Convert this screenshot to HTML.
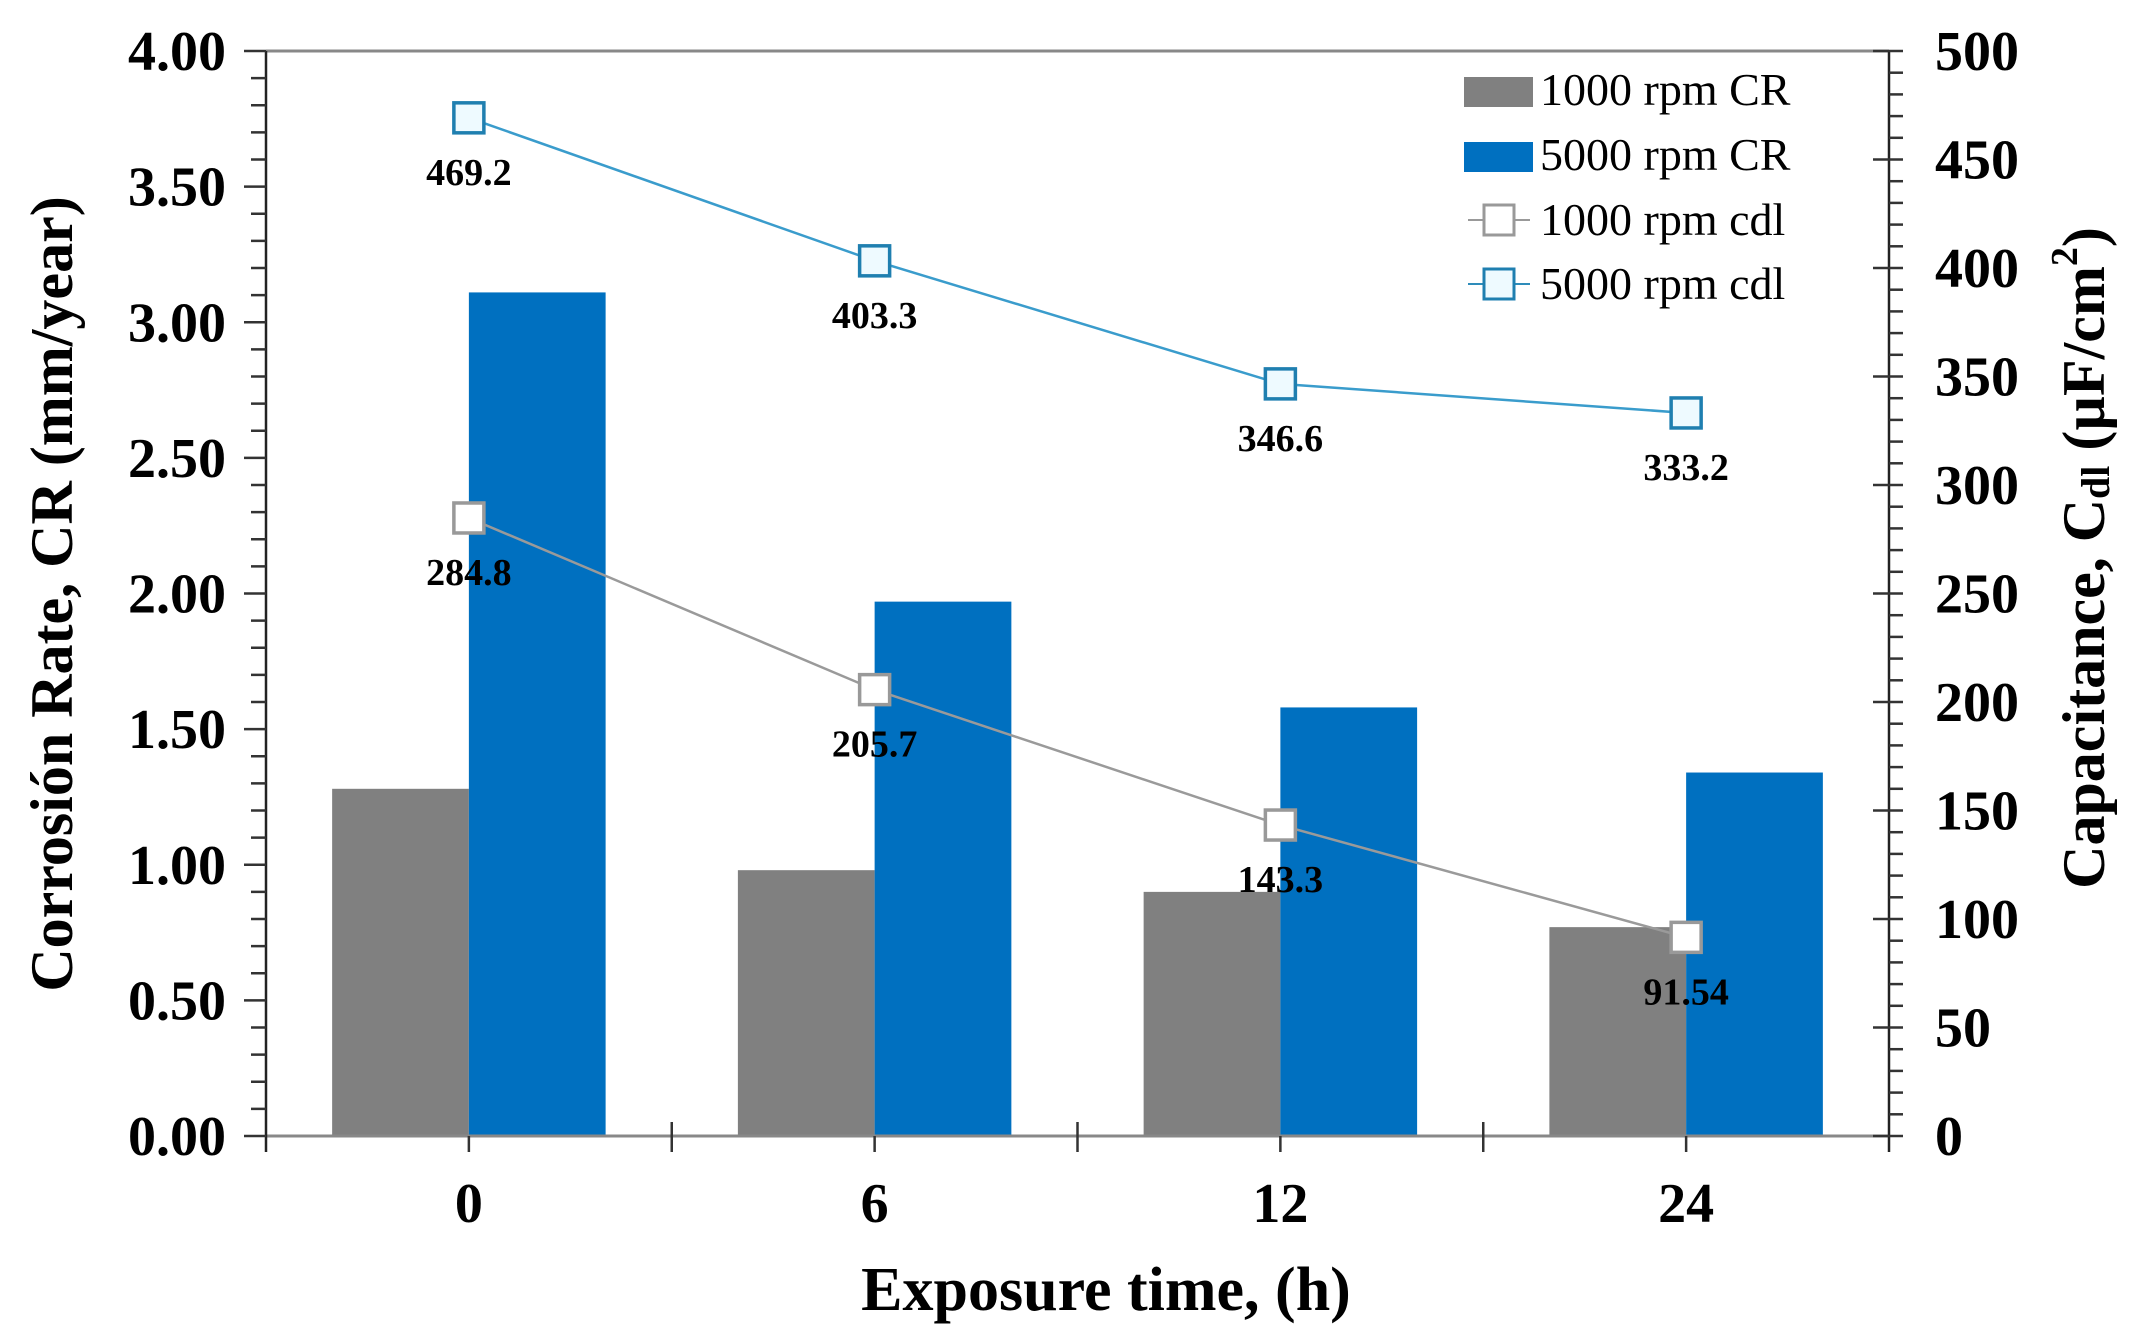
<!DOCTYPE html>
<html><head><meta charset="utf-8">
<style>
html,body{margin:0;padding:0;background:#fff;}
svg{display:block;font-family:"Liberation Serif",serif;}
</style></head>
<body>
<svg id="chart" width="2142" height="1331" viewBox="0 0 2142 1331" xmlns="http://www.w3.org/2000/svg">
<g id="grid"></g>
<g id="bars"></g>
<g id="axes"></g>
<g id="lines"></g>
<g id="labels"></g>
<g id="legend">
  <rect x="1464" y="77" width="69" height="30" fill="#808080"/>
  <text x="1540" y="105" font-size="46">1000 rpm CR</text>
  <rect x="1464" y="142" width="69" height="30" fill="#0070c0"/>
  <text x="1540" y="170" font-size="46">5000 rpm CR</text>
  <line x1="1468" y1="220" x2="1530" y2="220" stroke="#999" stroke-width="2"/>
  <rect x="1484" y="205" width="30" height="30" fill="#fff" stroke="#999" stroke-width="3"/>
  <text x="1540" y="235" font-size="46">1000 rpm cdl</text>
  <line x1="1468" y1="284" x2="1530" y2="284" stroke="#2e8cba" stroke-width="2"/>
  <rect x="1484" y="269" width="30" height="30" fill="#eefaff" stroke="#1f7fb0" stroke-width="3"/>
  <text x="1540" y="299" font-size="46">5000 rpm cdl</text>
</g>
<text x="1106" y="1310" font-size="62" font-weight="bold" text-anchor="middle">Exposure time, (h)</text>
<text transform="translate(72,594) rotate(-90)" font-size="60" font-weight="bold" text-anchor="middle">Corrosión Rate, CR (mm/year)</text>
<text transform="translate(2090,558) rotate(-90)" font-size="60" font-weight="bold" text-anchor="middle" dominant-baseline="middle">Capacitance, C<tspan font-size="40" dy="10">dl</tspan><tspan dy="-10"> (µF/cm</tspan><tspan font-size="38" dy="-22">2</tspan><tspan dy="22">)</tspan></text>
</svg>
<script>
const categories = ["0","6","12","24"];
const cr1000 = [1.28, 0.98, 0.90, 0.77];
const cr5000 = [3.11, 1.97, 1.58, 1.34];
const cdl1000 = [284.8, 205.7, 143.3, 91.54];
const cdl5000 = [469.2, 403.3, 346.6, 333.2];
const cdl1000Labels = ["284.8","205.7","143.3","91.54"];
const cdl5000Labels = ["469.2","403.3","346.6","333.2"];
const leftTicks = ["0.00","0.50","1.00","1.50","2.00","2.50","3.00","3.50","4.00"];
const rightTicks = ["0","50","100","150","200","250","300","350","400","450","500"];

const NS = "http://www.w3.org/2000/svg";
const L = 266, R = 1889, T = 51, B = 1136;
const catW = (R - L) / categories.length;
const xC = i => L + catW * (i + 0.5);
const yL = v => B - (v / 4) * (B - T);
const yR = v => B - (v / 500) * (B - T);
const barW = catW * 0.337;

function mk(tag, attrs, parent) {
  const e = document.createElementNS(NS, tag);
  for (const k in attrs) e.setAttribute(k, attrs[k]);
  document.getElementById(parent).appendChild(e);
  return e;
}

// bars
categories.forEach((c, i) => {
  let b = mk("rect", {x: xC(i) - barW, y: yL(cr1000[i]), width: barW, height: B - yL(cr1000[i]), fill: "#808080"}, "bars");
  
  
  let b2 = mk("rect", {x: xC(i), y: yL(cr5000[i]), width: barW, height: B - yL(cr5000[i]), fill: "#0070c0"}, "bars");
  
  
});

// axes frame
mk("line", {x1: L, y1: T, x2: R, y2: T, stroke: "#888", "stroke-width": 3}, "axes");
mk("line", {x1: L, y1: B, x2: R, y2: B, stroke: "#888", "stroke-width": 3}, "axes");
mk("line", {x1: L, y1: T, x2: L, y2: B + 16, stroke: "#222", "stroke-width": 2.5}, "axes");
mk("line", {x1: R, y1: T, x2: R, y2: B + 16, stroke: "#222", "stroke-width": 2.5}, "axes");

// left ticks
for (let k = 0; k <= 40; k++) {
  const y = B - k / 40 * (B - T);
  const major = k % 5 === 0;
  mk("line", {x1: major ? L - 22 : L - 15, y1: y, x2: L, y2: y, stroke: "#333", "stroke-width": 2.5}, "axes");
}
leftTicks.forEach((t, i) => {
  const e = mk("text", {x: 226, y: yL(i * 0.5) + 19, "font-size": 56, "font-weight": "bold", "text-anchor": "end"}, "axes");
  e.textContent = t;
  
  
});
// right ticks
for (let k = 0; k <= 50; k++) {
  const y = B - k / 50 * (B - T);
  const major = k % 5 === 0;
  mk("line", {x1: major ? R - 16 : R, y1: y, x2: R + 14, y2: y, stroke: "#333", "stroke-width": 2.5}, "axes");
}
rightTicks.forEach((t, i) => {
  const e = mk("text", {x: 1935, y: yR(i * 50) + 19, "font-size": 56, "font-weight": "bold"}, "axes");
  e.textContent = t;
  
  
});
// x ticks
for (let i = 1; i < categories.length; i++) {
  const x = L + catW * i;
  mk("line", {x1: x, y1: B - 14, x2: x, y2: B + 16, stroke: "#333", "stroke-width": 2.5}, "axes");
}
categories.forEach((c, i) => {
  mk("line", {x1: xC(i), y1: B, x2: xC(i), y2: B + 16, stroke: "#333", "stroke-width": 2.5}, "axes");
  const e = mk("text", {x: xC(i), y: 1222, "font-size": 56, "font-weight": "bold", "text-anchor": "middle"}, "axes");
  e.textContent = c;
  
  
});

// lines
function series(vals, labels, stroke, fill, lineColor, name) {
  const pts = vals.map((v, i) => xC(i) + "," + yR(v)).join(" ");
  const pl = mk("polyline", {points: pts, fill: "none", stroke: lineColor, "stroke-width": 2.5}, "lines");
  
  
  vals.forEach((v, i) => {
    const m = mk("rect", {x: xC(i) - 15, y: yR(v) - 15, width: 30, height: 30, fill: fill, stroke: stroke, "stroke-width": 3.5}, "lines");
    
    
    const t = mk("text", {x: xC(i), y: yR(v) + 67, "font-size": 38, "font-weight": "bold", "text-anchor": "middle"}, "labels");
    t.textContent = labels[i];
    
    
  });
}
series(cdl1000, cdl1000Labels, "#999", "#fff", "#9a9a9a", "cdl-1000");
series(cdl5000, cdl5000Labels, "#1f7fb0", "#eefaff", "#3a9ccc", "cdl-5000");
</script>
</body></html>
